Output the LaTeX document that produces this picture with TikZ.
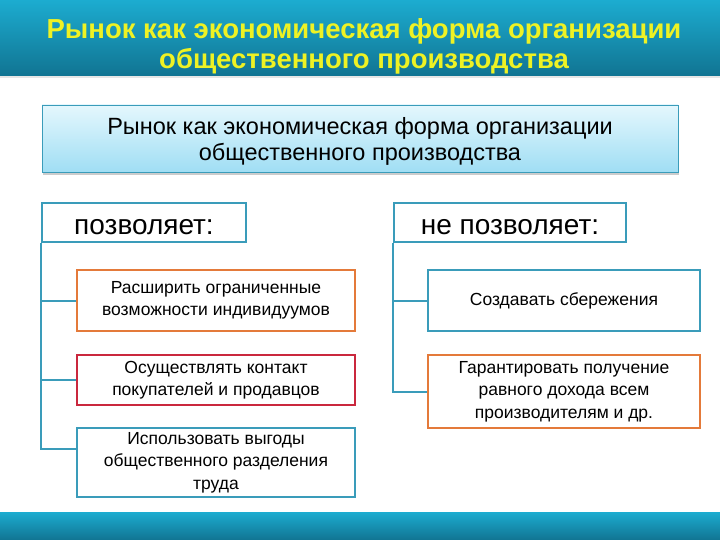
\documentclass[tikz,border=0pt]{standalone}
\usepackage{fontspec}
\setmainfont{Liberation Sans}
\usetikzlibrary{shadows}

\definecolor{bannertop}{RGB}{28,172,208}
\definecolor{bannerbot}{RGB}{17,116,146}
\definecolor{titleyellow}{RGB}{238,242,36}
\definecolor{boxtop}{RGB}{228,247,253}
\definecolor{boxbot}{RGB}{160,222,244}
\definecolor{tealline}{RGB}{58,156,186}
\definecolor{orangeline}{RGB}{228,122,58}
\definecolor{redline}{RGB}{202,40,62}

\tikzset{
  itembox/.style={draw=#1, line width=1.5pt, fill=white, align=center, inner sep=0pt,
    font=\fontsize{17.5}{22.5}\selectfont},
  headbox/.style={draw=tealline, line width=2pt, fill=white, inner sep=0pt,
    minimum height=39pt, text height=24pt, text depth=0pt, font=\fontsize{28}{30}\selectfont},
  branch/.style={draw=tealline, line width=2pt}
}

\begin{document}
\begin{tikzpicture}[x=1pt,y=-1pt]
   \useasboundingbox (0,0) rectangle (720,540);

   % banner and bottom bar
   \shade[top color=bannertop, bottom color=bannerbot, drop shadow={opacity=0.2, shadow yshift=-2pt, shadow xshift=0pt}]
      (0,0) rectangle (720,76);
   \shade[top color=bannertop, bottom color=bannerbot] (0,512) rectangle (720,540);
   \node[text=titleyellow, align=center, font=\bfseries\fontsize{27.5}{30}\selectfont] (title) at (364,46)
      {Рынок как экономическая форма организации\\общественного производства};

   % subtitle
   \node[draw=tealline, line width=0.6pt, top color=boxtop, bottom color=boxbot,
         minimum width=636pt, minimum height=67pt,
         drop shadow={opacity=0.4, shadow xshift=1pt, shadow yshift=-3pt}] (market) at (360,138.5) {};
   \node[align=center, font=\fontsize{23.5}{26.5}\selectfont] (markettext) at ([yshift=-3pt]market.center)
      {Рынок как экономическая форма организации\\общественного производства};

   % left column
   \node[headbox, minimum width=204pt] (allows) at (144,222.5) {позволяет:};
   \node[itembox=orangeline, minimum width=278pt, minimum height=61pt] (use1) at (216,300.5)
      {Расширить ограниченные\\возможности индивидуумов};
   \node[itembox=redline, minimum width=278pt, minimum height=50pt] (use2) at (216,380)
      {Осуществлять контакт\\покупателей и продавцов};
   \node[itembox=tealline, minimum width=278pt, minimum height=69pt] (use3) at (216,462.5)
      {Использовать выгоды\\общественного разделения\\труда};

   \draw[branch] (allows.south west) |- (use1.west);
   \draw[branch] (allows.south west) |- (use2.west);
   \draw[branch] (allows.south west) |- ([yshift=14pt]use3.west);

   % right column
   \node[headbox, minimum width=232pt] (denies) at (510,222.5) {не позволяет:};
   \node[itembox=tealline, minimum width=272pt, minimum height=61pt] (lack1) at (564,300.5)
      {Создавать сбережения};
   \node[itembox=orangeline, minimum width=272pt, minimum height=73pt] (lack2) at (564,391.5)
      {Гарантировать получение\\равного дохода всем\\производителям и др.};

   \draw[branch] (denies.south west) |- (lack1.west);
   \draw[branch] (denies.south west) |- (lack2.west);
\end{tikzpicture}
\end{document}
